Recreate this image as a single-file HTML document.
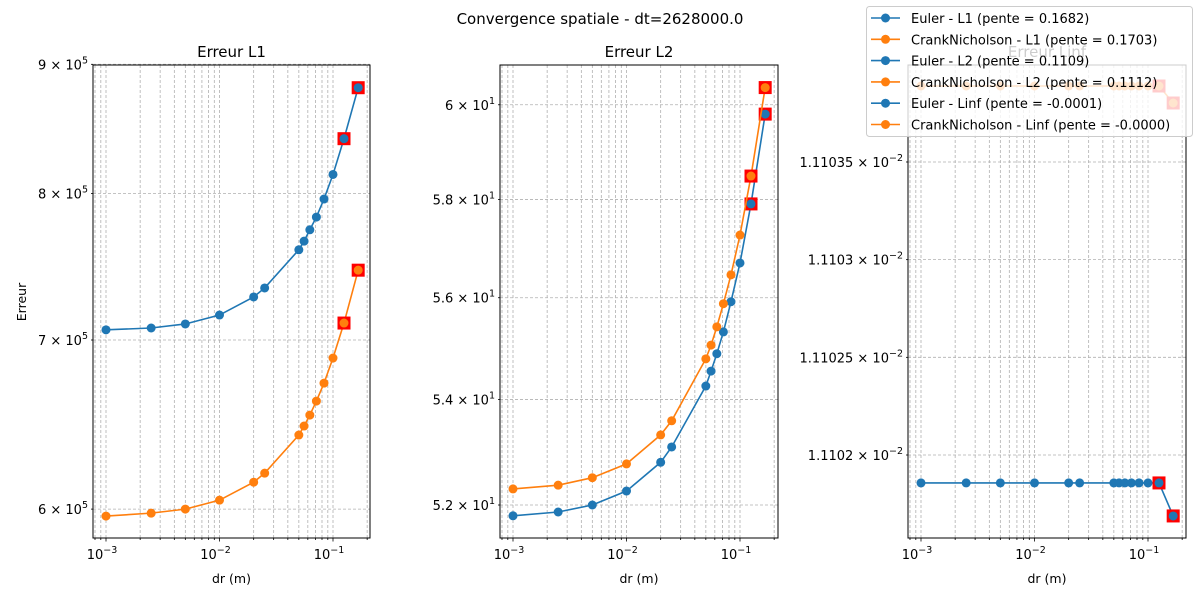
<!DOCTYPE html>
<html><head><meta charset="utf-8"><style>
body{margin:0;background:#fff;}
svg{display:block;font-family:"DejaVu Sans","Liberation Sans",sans-serif;}
</style></head><body>
<svg id="chart" width="1200" height="600" viewBox="0 0 1200 600" xmlns="http://www.w3.org/2000/svg">
<text x="600" y="24" text-anchor="middle" font-size="15">Convergence spatiale - dt=2628000.0</text>
<text transform="translate(26,302) rotate(-90)" text-anchor="middle" font-size="12.5">Erreur</text>
</svg>
<script>
const dr = [0.001,0.0025,0.005,0.01,0.02,0.025,0.05,0.0556,0.0625,0.0714,0.0833,0.1,0.125,0.1667];
const eulerL1 = [7.065e5,7.077e5,7.103e5,7.161e5,7.28e5,7.34e5,7.60e5,7.66e5,7.74e5,7.83e5,7.96e5,8.14e5,8.41e5,8.81e5];
const cnL1 = [5.962e5,5.978e5,6.0e5,6.049e5,6.149e5,6.20e5,6.419e5,6.472e5,6.537e5,6.621e5,6.73e5,6.886e5,7.109e5,7.46e5];
const eulerL2 = [51.80,51.87,52.0,52.26,52.80,53.09,54.26,54.55,54.89,55.32,55.92,56.70,57.91,59.80];
const cnL2 = [52.30,52.37,52.51,52.77,53.32,53.59,54.79,55.06,55.42,55.88,56.46,57.27,58.49,60.37];
const eulerLinf = [0.011101857,0.011101857,0.011101857,0.011101857,0.011101857,0.011101857,0.011101857,0.011101857,0.011101857,0.011101857,0.011101857,0.011101857,0.011101857,0.011101688];
const cnLinf = [0.011103889,0.011103889,0.011103889,0.011103889,0.011103889,0.011103889,0.011103889,0.011103889,0.011103889,0.011103889,0.011103889,0.011103889,0.011103889,0.011103802];
const legendLabels = ["Euler - L1 (pente = 0.1682)","CrankNicholson - L1 (pente = 0.1703)","Euler - L2 (pente = 0.1109)","CrankNicholson - L2 (pente = 0.1112)","Euler - Linf (pente = -0.0001)","CrankNicholson - Linf (pente = -0.0000)"];
const yTicks1 = [6e5,7e5,8e5,9e5];
const yTickLabels1 = [["6","5"],["7","5"],["8","5"],["9","5"]];
const yTicks2 = [52,54,56,58,60];
const yTickLabels2 = [["5.2","1"],["5.4","1"],["5.6","1"],["5.8","1"],["6","1"]];
const yTicks3 = [0.011102,0.0111025,0.011103,0.0111035];
const yTickLabels3 = [["1.1102","-2"],["1.11025","-2"],["1.1103","-2"],["1.11035","-2"]];
const xTickExp = [-3,-2,-1];

const svg = document.getElementById('chart');
const NS = 'http://www.w3.org/2000/svg';
function mk(tag, attrs, parent){const e=document.createElementNS(NS,tag);for(const k in attrs)e.setAttribute(k,attrs[k]);(parent||svg).appendChild(e);return e;}
const BLUE='#1f77b4', ORANGE='#ff7f0e';
const TOP=65, BOT=538;

function panel(opts){
  const {L,R,x10m3,title,ys,yticks,ylabels,yFn,name}=opts;
  const dec=113.5;
  const xs=v=>x10m3+(Math.log10(v)+3)*dec;
  const g=mk('g',{});
  
  
  for(let k=-4;k<=0;k++){for(let m=1;m<=9;m++){const v=m*Math.pow(10,k);const x=xs(v);if(x<=L+0.5||x>=R-0.5)continue;
    const ln=mk('line',{x1:x,x2:x,y1:TOP,y2:BOT,stroke:'#b0b0b0','stroke-width':0.8,'stroke-dasharray':'3,2'},g);
    
    mk('line',{x1:x,x2:x,y1:BOT,y2:BOT+(m===1?3.5:2),stroke:'#000','stroke-width':0.8},g);}}
  yticks.forEach((v,i)=>{const y=yFn(v);
    const ln=mk('line',{x1:L,x2:R,y1:y,y2:y,stroke:'#b0b0b0','stroke-width':0.8,'stroke-dasharray':'3,2'},g);
    
    mk('line',{x1:L-2,x2:L,y1:y,y2:y,stroke:'#000','stroke-width':0.8},g);
    const t=mk('text',{x:L-5,y:y+5,'text-anchor':'end','font-size':13},g);
    
    t.textContent=ylabels[i][0]+' \u00d7 10';
    const s=mk('tspan',{dy:-6,'font-size':9.5},t);s.textContent=ylabels[i][1].replace('-','\u2212');
  });
  xTickExp.forEach(e=>{const x=xs(Math.pow(10,e));
    const t=mk('text',{x:x-4,y:559,'text-anchor':'middle','font-size':13},g);
    
    t.textContent='10';const s=mk('tspan',{dy:-6,'font-size':9.5},t);s.textContent=String(e).replace('-','\u2212');
  });
  const xl=mk('text',{x:(L+R)/2,y:583,'text-anchor':'middle','font-size':12.5},g);
  xl.textContent='dr (m)';
  const tt=mk('text',{x:(L+R)/2,y:57,'text-anchor':'middle','font-size':15},g);
  tt.textContent=title;
  ys.forEach((ser,si)=>{
    const col=si===0?BLUE:ORANGE;
    const pts=dr.map((d,i)=>[xs(d),yFn(ser[i])]);
    const pl=mk('polyline',{points:pts.map(p=>p.join(',')).join(' '),fill:'none',stroke:col,'stroke-width':1.6},g);
    
    pts.slice(-2).forEach(p=>{const r=mk('rect',{x:p[0]-6.5,y:p[1]-6.5,width:13,height:13,fill:'red'},g);
      });
    pts.forEach(p=>{const c=mk('circle',{cx:p[0],cy:p[1],r:4.5,fill:col},g);
      });
  });
  const fr=mk('rect',{x:L,y:TOP,width:R-L,height:BOT-TOP,fill:'none',stroke:'#000','stroke-width':1},g);
  
}
const y1=v=>340-(Math.log10(v)-Math.log10(7e5))*2526;
const y2=v=>505-(Math.log10(v)-Math.log10(52))*6440;
const y3=v=>455-(v-0.011102)/0.0000005*97.67;
panel({L:93,R:370,x10m3:106,title:'Erreur L1',ys:[eulerL1,cnL1],yticks:yTicks1,ylabels:yTickLabels1,yFn:y1,name:'panel-l1'});
panel({L:500,R:778,x10m3:513,title:'Erreur L2',ys:[eulerL2,cnL2],yticks:yTicks2,ylabels:yTickLabels2,yFn:y2,name:'panel-l2'});
panel({L:908,R:1186,x10m3:921,title:'Erreur Linf',ys:[eulerLinf,cnLinf],yticks:yTicks3,ylabels:yTickLabels3,yFn:y3,name:'panel-linf'});
const lg=mk('g',{});

mk('rect',{x:866.5,y:6.5,width:326,height:130,rx:3,fill:'#fff','fill-opacity':0.8,stroke:'#ccc'},lg);
legendLabels.forEach((lab,i)=>{const y=18+i*21.3;const col=i%2===0?BLUE:ORANGE;
  const e=mk('g',{},lg);
  
  mk('line',{x1:871,x2:900,y1:y,y2:y,stroke:col,'stroke-width':1.6},e);
  mk('circle',{cx:885.5,cy:y,r:4.5,fill:col},e);
  const t=mk('text',{x:911,y:y+5,'font-size':13},e);t.textContent=lab;
});
</script>
</body></html>
